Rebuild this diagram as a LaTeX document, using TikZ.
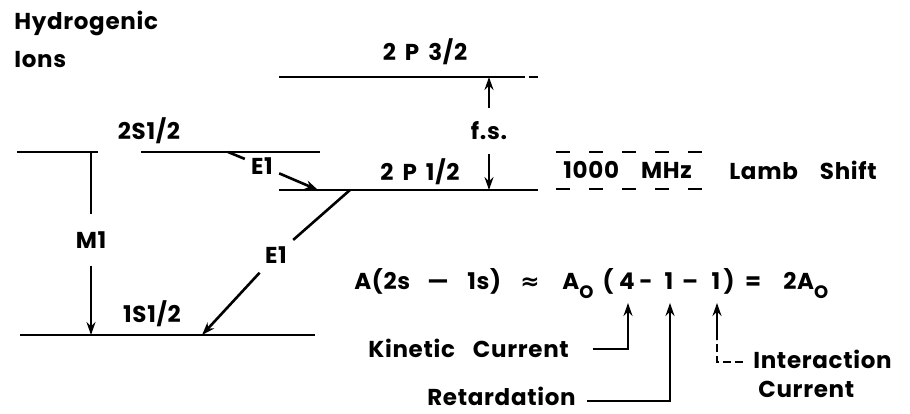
\documentclass[tikz,border=0pt]{standalone}
\usepackage{fontspec}
\setmainfont{Poppins}[LetterSpace=3]
\newfontfamily\dv{DejaVu Sans}
\usetikzlibrary{arrows.meta}
\begin{document}
\begin{tikzpicture}[x=1pt,y=-1pt,line width=2.6pt,
  tx/.style={font=\fontsize{23}{26}\selectfont\bfseries, inner sep=0pt, anchor=base},
  lab/.style={font=\fontsize{23}{26}\selectfont\bfseries, fill=white, inner xsep=5pt, inner ysep=6pt},
  arr/.style={-{Stealth[length=13pt,width=9pt]}}]
\useasboundingbox (0,0) rectangle (910,414);
% titles
\node[tx,anchor=base west] (hyd) at (13,30) {Hydrogenic};
\node[tx,anchor=base west] (ions) at (13,68) {Ions};
% levels
\coordinate (s2a) at (17,152); \coordinate (s2b) at (98,152);
\coordinate (s2c) at (141,152); \coordinate (s2d) at (320,152);
\draw (s2a) -- (s2b); \draw (s2c) -- (s2d);
\coordinate (p3a) at (279,77); \coordinate (p3b) at (525,77);
\coordinate (p3c) at (529,77); \coordinate (p3d) at (538,77);
\draw (p3a) -- (p3b); \draw (p3c) -- (p3d);
\coordinate (p1a) at (279,190); \coordinate (p1b) at (538,190);
\draw (p1a) -- (p1b);
\coordinate (s1a) at (20,335); \coordinate (s1b) at (315,335);
\draw (s1a) -- (s1b);
% level labels
\node[tx] (l2s) at (149,140) {2S1/2};
\node[tx] (l2p3) at (425,61) {2\hspace{9pt}P\hspace{9pt}3/2};
\node[tx] (l2p1) at (420,181) {2\hspace{9pt}P\hspace{9pt}1/2};
\node[tx] (l1s) at (152,322) {1S1/2};
% M1
\coordinate (m1t) at (91,152); \coordinate (m1b) at (91,335);
\node[lab,inner ysep=16pt,inner xsep=3pt] (m1) at (91,240) {M1};
\draw (m1t) -- (m1);
\draw[arr] (m1) -- (m1b);
% E1 upper
\coordinate (e1at) at (228,152); \coordinate (e1ab) at (318,190);
\node[lab,inner xsep=5pt,inner ysep=2pt] (e1a) at (262,166) {E1};
\draw (e1at) -- (e1a);
\draw[arr] (e1a) -- (e1ab);
% E1 lower
\coordinate (e1bt) at (350,190); \coordinate (e1bb) at (202,335);
\node[lab,inner xsep=5pt,inner ysep=8pt] (e1b) at (276,255) {E1};
\draw (e1bt) -- (e1b);
\draw[arr] (e1b) -- (e1bb);
% fine structure
\coordinate (fst) at (489,77); \coordinate (fsb) at (489,190);
\node[lab,inner ysep=13pt,inner xsep=2pt] (fs) at (489,131) {f.s.};
\draw[arr] (fs) -- (fst);
\draw[arr] (fs) -- (fsb);
% Lamb shift
\coordinate (lsa) at (556,152); \coordinate (lsb) at (710,152);
\coordinate (lsc) at (556,189); \coordinate (lsd) at (710,189);
\draw[dash pattern=on 14pt off 19pt] (lsa) -- (lsb);
\draw[dash pattern=on 14pt off 19pt] (lsc) -- (lsd);
\node[tx,anchor=base west] (mhz) at (562,179) {1000\hspace{22pt}MHz};
\node[tx,anchor=base west] (lamb) at (728,180) {Lamb\hspace{22pt}Shift};
% equation
\node[tx,anchor=base west] (eqa) at (353,289) {A(2s};
\node[tx] (eqb) at (438,289) {—};
\node[tx,anchor=base west] (eqc) at (466,289) {1s)};
\node[tx] (eqd) at (530,289) {{\dv\bfseries ≈}};
\node[tx,anchor=base west] (eqe) at (561,289) {A\raisebox{-9pt}{\fontsize{18}{18}\selectfont O}};
\node[tx] (eqf) at (608,289) {(};
\node[tx] (eq4) at (627,289) {4};
\node[tx] (eqg) at (646,289) {-};
\node[tx] (eqone) at (669,289) {1};
\node[tx] (eqh) at (690,289) {–};
\node[tx] (eqtwo) at (716,289) {1};
\node[tx] (eqi) at (729,289) {)};
\node[tx] (eqj) at (753,289) {=};
\node[tx,anchor=base west] (eqk) at (782,289) {2A\raisebox{-9pt}{\fontsize{18}{18}\selectfont O}};
% annotations
\node[tx,anchor=base west] (kin) at (367,357) {Kinetic\hspace{18pt}Current};
\node[tx,anchor=base west] (ret) at (426,405) {Retardation};
\node[tx,anchor=base west] (int1) at (752,368) {Interaction};
\node[tx,anchor=base west] (int2) at (757,397) {Current};
\coordinate (k1) at (593,349); \coordinate (k2) at (628,349); \coordinate (k3) at (628,303);
\draw[arr] (k1) -- (k2) -- (k3);
\coordinate (r1) at (587,401); \coordinate (r2) at (670,401); \coordinate (r3) at (670,303);
\draw[arr] (r1) -- (r2) -- (r3);
\coordinate (i1) at (743,362); \coordinate (i2) at (717,362); \coordinate (i3) at (717,340); \coordinate (i4) at (717,303);
\draw[dash pattern=on 8pt off 4pt] (i1) -- (i2) -- (i3);
\draw[arr] (i3) -- (i4);
\end{tikzpicture}
\end{document}
